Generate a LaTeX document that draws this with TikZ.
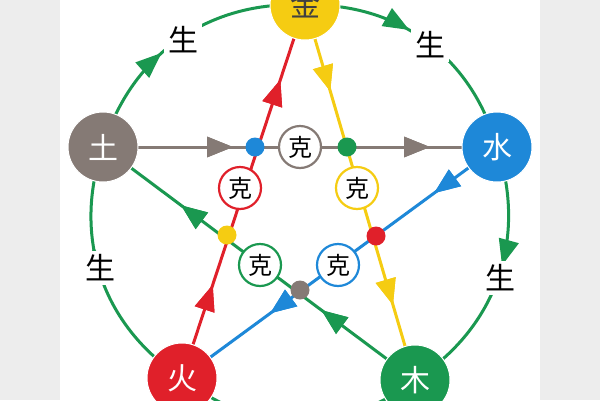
\documentclass[tikz,border=0pt]{standalone}
\usepackage{fontspec}
\newfontfamily\cjk{Noto Sans CJK SC}
\usetikzlibrary{decorations.markings,arrows.meta}
\definecolor{gg}{HTML}{1A9850}
\definecolor{rr}{HTML}{E0202A}
\definecolor{yy}{HTML}{F5CC12}
\definecolor{bb}{HTML}{1E88D8}
\definecolor{gr}{HTML}{857A75}
\tikzset{
 ball/.style={circle,minimum size=70pt,inner sep=0pt,font=\cjk\fontsize{30}{30}\selectfont,text=white,draw=white,line width=1pt},
 ke/.style={circle,minimum size=42pt,inner sep=0pt,fill=white,line width=2.2pt,font=\cjk\fontsize{24}{24}\selectfont},
 sheng/.style={fill=white,inner sep=4pt,font=\cjk\fontsize{30}{30}\selectfont},
 dot/.style={circle,minimum size=19pt,inner sep=0pt},
 arr/.style={decoration={markings,mark=at position #1 with {\arrow{Triangle[length=26pt,width=20pt]}}},postaction={decorate}},
 ln/.style={line width=3pt}
}
\begin{document}
\begin{tikzpicture}[x=1pt,y=-1pt]
\useasboundingbox (0,0) rectangle (600,400);
\fill[black!7] (0,0) rectangle (600,400);
\fill[white] (60,0) rectangle (540,400);
\coordinate (jinc) at (305,5);
\coordinate (shuic) at (497,147);
\coordinate (tuc) at (103,147);
\coordinate (huoc) at (182,378);
\coordinate (muc) at (415,380);
% outer arcs
\draw[ln,gg,arr=0.42] (tuc) to[bend left=38] (jinc);
\draw[ln,gg,arr=0.42] (jinc) to[bend left=38] (shuic);
\draw[ln,gg,arr=0.45] (shuic) to[bend left=38] (muc);
\draw[ln,gg,arr=0.5] (muc) to[bend left=38] (huoc);
\draw[ln,gg,arr=0.62] (huoc) to[bend left=38] (tuc);
\node[sheng] (s1) at (183,40) {生};
\node[sheng] (s2) at (430,45) {生};
\node[sheng] (s3) at (100,268) {生};
\node[sheng] (s4) at (500,278) {生};
% star
\draw[ln,gr,arr=0.33,arr=0.83] (tuc) -- (shuic);
\draw[ln,bb,arr=0.2,arr=0.72] (shuic) -- (huoc);
\draw[ln,rr,arr=0.25,arr=0.8] (huoc) -- (jinc);
\draw[ln,yy,arr=0.23,arr=0.8] (jinc) -- (muc);
\draw[ln,gg,arr=0.3,arr=0.75] (muc) -- (tuc);
\node[dot,fill=bb] (d1) at (255,147) {};
\node[dot,fill=gg] (d2) at (347,147) {};
\node[dot,fill=yy] (d3) at (227,235) {};
\node[dot,fill=rr] (d4) at (376,236) {};
\node[dot,fill=gr] (d5) at (300,290) {};
\node[ke,draw=gr] (k1) at (300,147) {克};
\node[ke,draw=rr] (k2) at (240,188) {克};
\node[ke,draw=yy] (k3) at (357,188) {克};
\node[ke,draw=gg] (k4) at (260,265) {克};
\node[ke,draw=bb] (k5) at (338,265) {克};
\node[ball,fill=yy,text=black!75] (jin) at (jinc) {金};
\node[ball,fill=bb] (shui) at (shuic) {水};
\node[ball,fill=gr] (tu) at (tuc) {土};
\node[ball,fill=rr] (huo) at (huoc) {火};
\node[ball,fill=gg] (mu) at (muc) {木};
\end{tikzpicture}
\end{document}
